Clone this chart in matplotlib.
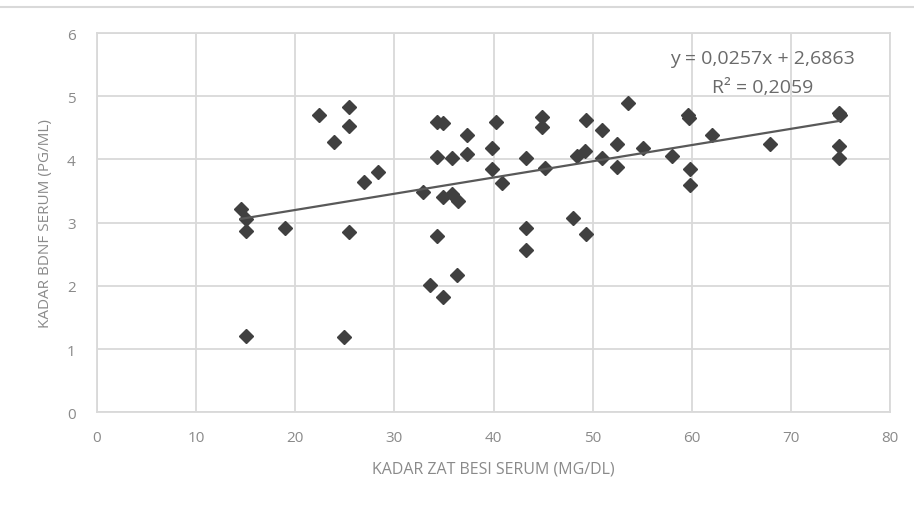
import matplotlib
matplotlib.use("Agg")
import matplotlib.pyplot as plt
import numpy as np

# Data
iron = [14.5, 15.0, 15.0, 19.0, 15.0,
        22.4, 25.4, 25.4, 23.9, 26.9, 28.4, 25.4, 24.9,
        32.9, 34.3, 34.9, 34.3, 35.8, 37.3, 37.3, 34.9, 35.8, 36.4,
        34.3, 33.6, 34.9, 36.3, 40.3, 39.8, 39.8, 40.9,
        43.3, 44.9, 44.9, 45.2, 43.3, 43.3, 48.0, 49.3, 48.4, 49.2,
        49.3, 50.9, 50.9, 52.4, 52.4, 53.6, 55.1, 58.0, 59.6, 59.7,
        59.8, 59.8, 62.0, 67.9, 74.8, 74.9, 74.8, 74.8]
bdnf = [3.21, 3.06, 2.87, 2.91, 1.20,
        4.71, 4.83, 4.53, 4.28, 3.65, 3.80, 2.85, 1.19,
        3.48, 4.59, 4.57, 4.04, 4.03, 4.08, 4.38, 3.40, 3.45, 3.35,
        2.79, 2.01, 1.83, 2.17, 4.59, 4.18, 3.85, 3.62,
        4.02, 4.67, 4.52, 3.86, 2.92, 2.56, 3.08, 2.82, 4.06, 4.13,
        4.62, 4.46, 4.02, 4.24, 3.88, 4.89, 4.18, 4.05, 4.70, 4.65,
        3.85, 3.60, 4.38, 4.24, 4.74, 4.70, 4.22, 4.03]
slope = 0.0257
intercept = 2.6863
r2 = 0.2059
x_ticks = [0, 10, 20, 30, 40, 50, 60, 70, 80]
y_ticks = [0, 1, 2, 3, 4, 5, 6]

W, H = 914, 506
fig = plt.figure(figsize=(W / 100, H / 100), dpi=100)
ax = fig.add_axes([96.7 / W, 1 - 413.2 / H, (890.3 - 96.7) / W, (413.2 - 34.1) / H])

grid_c = "#d9d9d9"
text_c = "#8a8a8a"
ax.set_xlim(0, 80)
ax.set_ylim(0, 6)
ax.set_xticks(x_ticks)
ax.set_yticks(y_ticks)
ax.grid(True, color=grid_c, linewidth=1.3)
ax.set_axisbelow(True)
for s in ax.spines.values():
    s.set_color(grid_c)
    s.set_linewidth(1.3)
ax.tick_params(length=0, colors=text_c, labelsize=11)
ax.tick_params(axis="x", pad=13)
ax.tick_params(axis="y", pad=15)
for lab in ax.get_xticklabels() + ax.get_yticklabels():
    lab.set_fontfamily("Open Sans")

ax.plot(iron, bdnf, linestyle="none", marker="D", markersize=7.5,
        color="#404040", zorder=3)

xs = np.array([min(iron), max(iron)])
ax.plot(xs, slope * xs + intercept, color="#595959", linewidth=1.6, zorder=4)

eq = "y = {}x + {}".format(f"{slope:.4f}".replace(".", ","), f"{intercept:.4f}".replace(".", ","))
r2t = "R² = " + f"{r2:.4f}".replace(".", ",")
ax.text(67.1, 5.6, eq, ha="center", va="center", fontsize=14, color="#6a6a6a",
        family="Open Sans")
ax.text(67.1, 5.14, r2t, ha="center", va="center", fontsize=14, color="#6a6a6a",
        family="Open Sans")

ax.set_xlabel("KADAR ZAT BESI SERUM (MG/DL)", fontsize=11.5, color=text_c,
              family="Open Sans", labelpad=11)
ax.set_ylabel("KADAR BDNF SERUM (PG/ML)", fontsize=11, color=text_c,
              family="Open Sans", labelpad=10)

fig.add_artist(plt.Line2D([0, 1], [1 - 8 / H, 1 - 8 / H], color="#d9d9d9",
                          linewidth=1.5, transform=fig.transFigure))

fig.savefig("out.png", dpi=100)
